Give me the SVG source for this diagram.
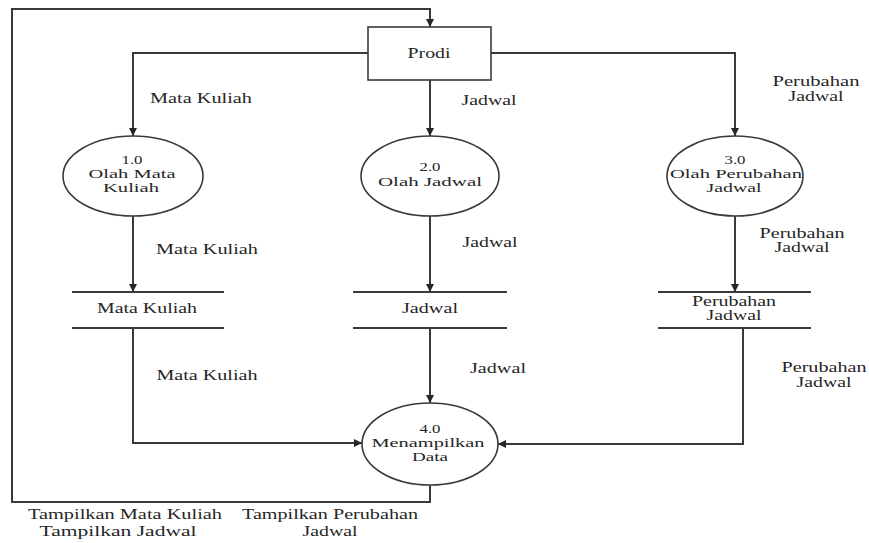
<svg xmlns="http://www.w3.org/2000/svg" width="869" height="543" viewBox="0 0 869 543">
  <style>
    text { font-family: "Liberation Serif", "Times New Roman", serif; font-size: 14px; fill: #262626; text-anchor: middle; }
    .proc text { font-size: 13px; }
    .flow { fill: none; stroke: #3a3a3a; stroke-width: 2; marker-end: url(#arrow); }
    .line { fill: none; stroke: #3a3a3a; stroke-width: 2; }
    .shape { fill: #ffffff; stroke: #3a3a3a; stroke-width: 1.6; }
  </style>
  <defs>
    <marker id="arrow" viewBox="0 0 10 10" refX="10" refY="5" markerWidth="4" markerHeight="4" orient="auto" markerUnits="strokeWidth">
      <path d="M0,0 L10,5 L0,10 z" fill="#262626"/>
    </marker>
  </defs>
  <rect width="869" height="543" fill="#ffffff"/>

  <!-- data flows -->
  <g id="connectors">
    <path class="flow" d="M430,485 V502 H12 V9 H430 V27"/>
    <path class="flow" d="M368,53 H133 V136"/>
    <path class="flow" d="M430,80 V136"/>
    <path class="flow" d="M491,53 H735 V136"/>
    <path class="flow" d="M133,216 V292"/>
    <path class="flow" d="M430,216 V292"/>
    <path class="flow" d="M735,216 V292"/>
    <path class="flow" d="M133,328 V443 H362"/>
    <path class="flow" d="M430,328 V403"/>
    <path class="flow" d="M743,328 V444 H498"/>

    <text x="201" y="103" textLength="102" lengthAdjust="spacingAndGlyphs">Mata Kuliah</text>
    <text x="489" y="105" textLength="55" lengthAdjust="spacingAndGlyphs">Jadwal</text>
    <text x="816" y="86" textLength="87" lengthAdjust="spacingAndGlyphs">Perubahan</text>
    <text x="816" y="101" textLength="55" lengthAdjust="spacingAndGlyphs">Jadwal</text>

    <text x="207" y="254" textLength="102" lengthAdjust="spacingAndGlyphs">Mata Kuliah</text>
    <text x="490" y="247" textLength="55" lengthAdjust="spacingAndGlyphs">Jadwal</text>
    <text x="802" y="238" textLength="85" lengthAdjust="spacingAndGlyphs">Perubahan</text>
    <text x="802" y="252" textLength="55" lengthAdjust="spacingAndGlyphs">Jadwal</text>

    <text x="207" y="380" textLength="101" lengthAdjust="spacingAndGlyphs">Mata Kuliah</text>
    <text x="498" y="373" textLength="56" lengthAdjust="spacingAndGlyphs">Jadwal</text>
    <text x="824" y="372" textLength="85" lengthAdjust="spacingAndGlyphs">Perubahan</text>
    <text x="824" y="387" textLength="55" lengthAdjust="spacingAndGlyphs">Jadwal</text>

    <text x="125" y="519" textLength="194" lengthAdjust="spacingAndGlyphs">Tampilkan Mata Kuliah</text>
    <text x="118" y="536" textLength="157" lengthAdjust="spacingAndGlyphs">Tampilkan Jadwal</text>
    <text x="330" y="519" textLength="176" lengthAdjust="spacingAndGlyphs">Tampilkan Perubahan</text>
    <text x="330" y="536" textLength="55" lengthAdjust="spacingAndGlyphs">Jadwal</text>
  </g>

  <!-- external entity -->
  <g id="prodi">
    <rect class="shape" x="368" y="27" width="123" height="53"/>
    <text x="429" y="58" textLength="43" lengthAdjust="spacingAndGlyphs">Prodi</text>
  </g>

  <!-- processes -->
  <g id="p1" class="proc">
    <ellipse class="shape" cx="133" cy="176" rx="70" ry="40"/>
    <text x="132" y="164" textLength="21" lengthAdjust="spacingAndGlyphs">1.0</text>
    <text x="132" y="178" textLength="87" lengthAdjust="spacingAndGlyphs">Olah Mata</text>
    <text x="131" y="192" textLength="56" lengthAdjust="spacingAndGlyphs">Kuliah</text>
  </g>
  <g id="p2" class="proc">
    <ellipse class="shape" cx="430" cy="176" rx="69" ry="40"/>
    <text x="430" y="171" textLength="21" lengthAdjust="spacingAndGlyphs">2.0</text>
    <text x="430" y="186" textLength="104" lengthAdjust="spacingAndGlyphs">Olah Jadwal</text>
  </g>
  <g id="p3" class="proc">
    <ellipse class="shape" cx="735" cy="176" rx="68" ry="40"/>
    <text x="735" y="164" textLength="21" lengthAdjust="spacingAndGlyphs">3.0</text>
    <text x="736" y="178" textLength="132" lengthAdjust="spacingAndGlyphs">Olah Perubahan</text>
    <text x="734" y="192" textLength="55" lengthAdjust="spacingAndGlyphs">Jadwal</text>
  </g>
  <g id="p4" class="proc">
    <ellipse class="shape" cx="430" cy="444" rx="68" ry="41"/>
    <text x="430" y="433" textLength="21" lengthAdjust="spacingAndGlyphs">4.0</text>
    <text x="428" y="447" textLength="113" lengthAdjust="spacingAndGlyphs">Menampilkan</text>
    <text x="430" y="461" textLength="36" lengthAdjust="spacingAndGlyphs">Data</text>
  </g>

  <!-- data stores -->
  <g id="store-mata-kuliah">
    <line class="line" x1="72" y1="292" x2="224" y2="292"/>
    <line class="line" x1="72" y1="328" x2="224" y2="328"/>
    <text x="147" y="313" textLength="100" lengthAdjust="spacingAndGlyphs">Mata Kuliah</text>
  </g>
  <g id="store-jadwal">
    <line class="line" x1="353" y1="292" x2="507" y2="292"/>
    <line class="line" x1="353" y1="328" x2="507" y2="328"/>
    <text x="430" y="313" textLength="56" lengthAdjust="spacingAndGlyphs">Jadwal</text>
  </g>
  <g id="store-perubahan-jadwal">
    <line class="line" x1="658" y1="292" x2="811" y2="292"/>
    <line class="line" x1="658" y1="328" x2="811" y2="328"/>
    <text x="734" y="306" textLength="84" lengthAdjust="spacingAndGlyphs">Perubahan</text>
    <text x="734" y="320" textLength="55" lengthAdjust="spacingAndGlyphs">Jadwal</text>
  </g>
</svg>
